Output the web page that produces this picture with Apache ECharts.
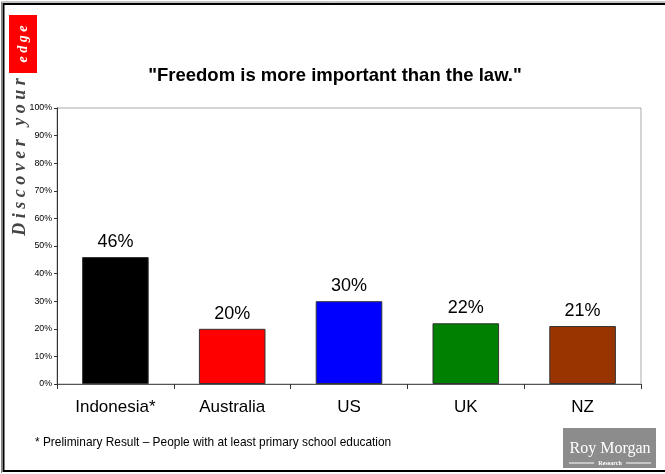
<!DOCTYPE html>
<html><head><meta charset="utf-8">
<script src="https://cdn.jsdelivr.net/npm/echarts@6/dist/echarts.min.js"></script>
<style>html,body{margin:0;padding:0;background:#fff}#c{width:665px;height:474px}</style>
</head><body><div id="c"></div>
<script>
const categories = ['Indonesia*', 'Australia', 'US', 'UK', 'NZ'];
const values = [46, 20, 30, 22, 21];
const barColors = ['#000000', '#FF0000', '#0000FF', '#008000', '#993300'];
const yTicks = [0, 10, 20, 30, 40, 50, 60, 70, 80, 90, 100];

const chart = echarts.init(document.getElementById('c'));
chart.setOption({
  animation: false,
  backgroundColor: '#fff',
  title: {
    text: '"Freedom is more important than the law."',
    left: 330, top: 61, textAlign: 'center',
    textStyle: {fontFamily: 'Liberation Sans, Arial', fontWeight: 'bold', fontSize: 18.5, color: '#000'}
  },
  grid: {left: 57, right: 24, top: 108, bottom: 90, show: true, borderColor: '#aaa', borderWidth: 1, backgroundColor: 'transparent'},
  xAxis: {
    type: 'category', data: categories,
    axisLine: {lineStyle: {color: '#555', width: 1}},
    axisTick: {show: true, length: 5, lineStyle: {color: '#333'}},
    axisLabel: {fontFamily: 'Liberation Sans, Arial', fontSize: 17, color: '#000', margin: 15}
  },
  yAxis: {
    type: 'value', min: 0, max: 100, interval: 10,
    axisLine: {show: true, lineStyle: {color: '#333', width: 1}},
    axisTick: {show: true, length: 3, lineStyle: {color: '#333'}},
    splitLine: {show: false},
    axisLabel: {fontFamily: 'Liberation Sans, Arial', fontSize: 8.8, color: '#000', margin: 5,
      formatter: v => v + '%'}
  },
  series: [{
    type: 'bar',
    data: values.map((v, i) => ({value: v, itemStyle: {color: barColors[i]}})),
    barWidth: '57%',
    itemStyle: {borderColor: '#333', borderWidth: 1},
    label: {show: true, position: 'top', distance: 6, formatter: p => p.value + '%',
      fontFamily: 'Liberation Sans, Arial', fontSize: 18, color: '#000'}
  }],
  graphic: [
    {type: 'polyline', shape: {points: [[667, 4], [3.5, 4], [3.5, 471], [667, 471]]},
      style: {stroke: '#000', lineWidth: 2, fill: null}, z: 10},
    {type: 'polyline', shape: {points: [[667, 2], [1.5, 2], [1.5, 473]]},
      style: {stroke: '#888', lineWidth: 1, fill: null}, z: 10},
    {type: 'rect', shape: {x: 9, y: 15, width: 28, height: 58}, style: {fill: '#FF0000'}, z: 10},
    {type: 'text', x: 23, y: 44, rotation: Math.PI / 2,
      style: {text: 'e d g e', fill: '#fff', font: 'italic bold 14px "Liberation Serif", serif', align: 'center', verticalAlign: 'middle'}, z: 11},
    {type: 'text', x: 20, y: 157, rotation: Math.PI / 2,
      style: {text: 'D i s c o v e r   y o u r', fill: '#444', font: 'italic bold 18px "Liberation Serif", serif', align: 'center', verticalAlign: 'middle'}, z: 11},
    {type: 'text', x: 35, y: 443,
      style: {text: '* Preliminary Result \u2013 People with at least primary school education', fill: '#000', font: '11.9px "Liberation Sans", Arial', verticalAlign: 'middle'}, z: 11},
    {type: 'rect', shape: {x: 563, y: 428, width: 93, height: 40}, style: {fill: '#8c8c8c'}, z: 10},
    {type: 'text', x: 610, y: 449, style: {text: 'Roy Morgan', fill: '#fff', font: '16px "Liberation Serif", serif', align: 'center', verticalAlign: 'middle'}, z: 11},
    {type: 'text', x: 610, y: 463, style: {text: 'Research', fill: '#fff', font: 'bold 6px "Liberation Serif", serif', align: 'center', verticalAlign: 'middle'}, z: 11},
    {type: 'line', shape: {x1: 569, y1: 463, x2: 594, y2: 463}, style: {stroke: '#fff', lineWidth: 1}, z: 11},
    {type: 'line', shape: {x1: 626, y1: 463, x2: 651, y2: 463}, style: {stroke: '#fff', lineWidth: 1}, z: 11}
  ]
});
</script></body></html>
